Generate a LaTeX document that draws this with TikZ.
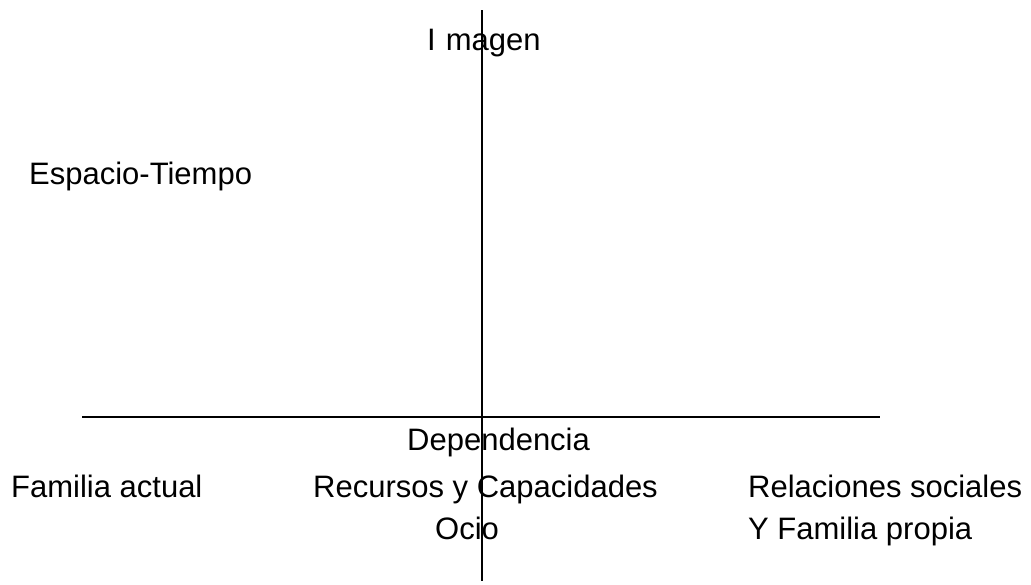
\documentclass[tikz,border=0pt]{standalone}
\usepackage{fontspec}
\setmainfont{Liberation Sans}
\begin{document}
\begin{tikzpicture}[x=1pt,y=-1pt,
  lbl/.style={anchor=base west,inner sep=0pt,font=\fontsize{31}{37}\selectfont},
  axis/.style={line width=1.4pt,black}]
\useasboundingbox (0,0) rectangle (1031,584);
\coordinate (vtop) at (482,10);
\coordinate (vbot) at (482,581);
\coordinate (hl) at (82,417);
\coordinate (hr) at (880,417);
\draw[axis] (vtop) -- (vbot);
\draw[axis] (hl) -- (hr);
\node[lbl] (imagen) at (427,50) {I\hspace{10pt}magen};
\node[lbl] (espacio) at (29,184) {Espacio-Tiempo};
\node[lbl] (dep) at (407,450) {Dependencia};
\node[lbl] (fam) at (11,497) {Familia actual};
\node[lbl] (rec) at (313,497) {Recursos y Capacidades};
\node[lbl] (rel) at (748,497) {Relaciones sociales};
\node[lbl] (ocio) at (435,539) {Ocio};
\node[lbl] (yfam) at (748,539) {Y Familia propia};
\end{tikzpicture}
\end{document}
